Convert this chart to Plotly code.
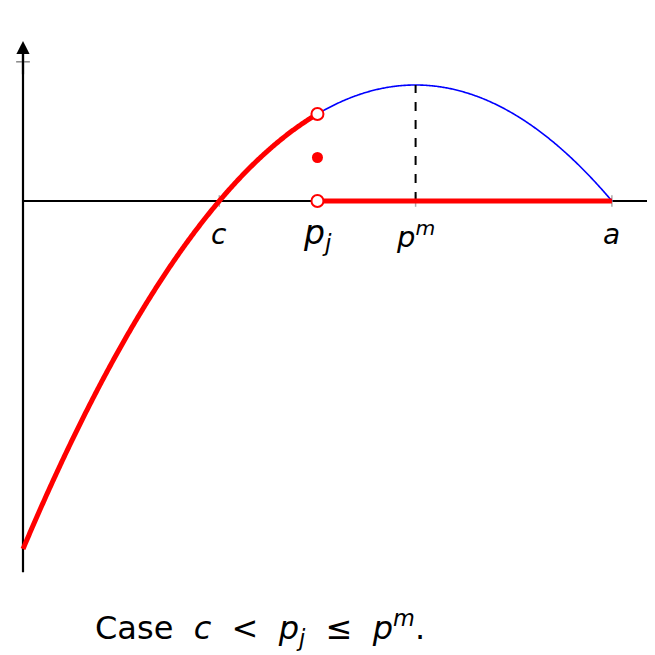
import numpy as np
import plotly.graph_objects as go

# model values
c = 1.0
a = 3.0
p_m = 2.0
p_j = 1.5
x_start = 0.0
y_axis_bottom = -3.2
y_axis_top = 1.38
y_tick = 1.2

def profit(p):
    return (p - c) * (a - p)

tick_labels = ["<i>c</i>", "<i>p<sub>j</sub></i>", "<i>p<sup>m</sup></i>", "<i>a</i>"]
tick_positions = [c, p_j, p_m, a]

W = H = 655
SX, SY = 196.3, 116.0      # figure pixels per unit
X0, Y0 = 15.0, 193.0       # figure pixel of the origin
x_lo, x_hi = -X0/SX, (W - X0)/SX
y_hi, y_lo = Y0/SY, -(H - Y0)/SY

fig = go.Figure()

# axes lines
fig.add_trace(go.Scatter(x=[x_start, x_hi], y=[0, 0], mode="lines",
                         line=dict(color="black", width=1.8), hoverinfo="skip"))
fig.add_trace(go.Scatter(x=[x_start, x_start], y=[y_axis_bottom, y_axis_top - 0.05], mode="lines",
                         line=dict(color="black", width=2.2), hoverinfo="skip"))
# y tick
fig.add_trace(go.Scatter(x=[x_start - 0.035, x_start + 0.035], y=[y_tick, y_tick], mode="lines",
                         line=dict(color="#888888", width=1.5), hoverinfo="skip"))
# x ticks
for tp in tick_positions:
    fig.add_trace(go.Scatter(x=[tp, tp], y=[-0.05, 0.05], mode="lines",
                             line=dict(color="#aaaaaa", width=1.5), hoverinfo="skip"))

# blue thin parabola from p_j to a
xb = np.linspace(p_j, a, 300)
fig.add_trace(go.Scatter(x=xb, y=profit(xb), mode="lines",
                         line=dict(color="blue", width=1.6, simplify=False), hoverinfo="skip"))
# dashed vertical at p_m
fig.add_trace(go.Scatter(x=[p_m, p_m], y=[0, profit(p_m)], mode="lines",
                         line=dict(color="black", width=2, dash="dash"), hoverinfo="skip"))
# red thick parabola from 0 to p_j
xr = np.linspace(x_start, p_j, 300)
fig.add_trace(go.Scatter(x=xr, y=profit(xr), mode="lines",
                         line=dict(color="red", width=5, simplify=False), hoverinfo="skip"))
# red horizontal from p_j to a
fig.add_trace(go.Scatter(x=[p_j, a], y=[0, 0], mode="lines",
                         line=dict(color="red", width=5), hoverinfo="skip"))
# open circles
fig.add_trace(go.Scatter(x=[p_j, p_j], y=[profit(p_j), 0], mode="markers",
                         marker=dict(size=12, color="white", line=dict(color="red", width=2)),
                         hoverinfo="skip"))
# filled dot: half the profit
fig.add_trace(go.Scatter(x=[p_j], y=[profit(p_j) / 2], mode="markers",
                         marker=dict(size=11, color="red"), hoverinfo="skip"))

# arrow head on y axis
fig.add_annotation(x=x_start, y=y_axis_top, ax=x_start, ay=y_axis_top - 0.3,
                   xref="x", yref="y", axref="x", ayref="y", text="",
                   showarrow=True, arrowhead=2, arrowsize=1.2, arrowwidth=2.2, arrowcolor="black")

# tick labels
label_y = [-0.29, -0.29, -0.29, -0.29]
label_size = [28, 33, 29, 28]
for tp, tl, ly, fs in zip(tick_positions, tick_labels, label_y, label_size):
    fig.add_annotation(x=tp, y=ly, text=tl, showarrow=False,
                       font=dict(family="DejaVu Sans", size=fs, color="black"))

fig.add_annotation(x=1.207, y=-3.68, xref="x", yref="y",
                   text="Case  <i>c</i>  &lt;  <i>p<sub>j</sub></i>  ≤  <i>p<sup>m</sup></i>.",
                   showarrow=False, font=dict(family="DejaVu Sans", size=32, color="black"))

fig.update_layout(width=W, height=H, margin=dict(l=0, r=0, t=0, b=0),
                  plot_bgcolor="white", paper_bgcolor="white", showlegend=False,
                  xaxis=dict(range=[x_lo, x_hi], visible=False),
                  yaxis=dict(range=[y_lo, y_hi], visible=False))

fig.write_html("out.html")
